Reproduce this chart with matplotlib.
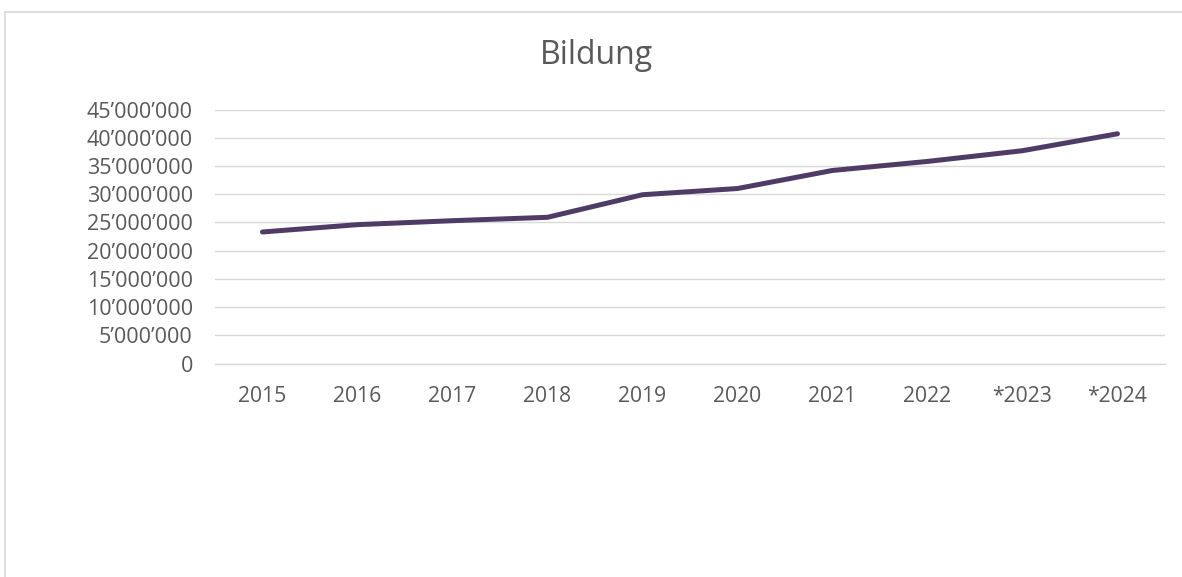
import matplotlib
matplotlib.use("Agg")
import matplotlib.pyplot as plt
from matplotlib.ticker import FuncFormatter, MultipleLocator
from matplotlib.lines import Line2D

title = "Bildung"
categories = ["2015", "2016", "2017", "2018", "2019", "2020", "2021", "2022", "*2023", "*2024"]
values = [23_300_000, 24_600_000, 25_300_000, 25_900_000, 29_900_000,
          31_000_000, 34_200_000, 35_800_000, 37_700_000, 40_700_000]

plt.rcParams['font.family'] = ['Open Sans', 'DejaVu Sans']
text_color = "#595959"
grid_color = "#D9D9D9"
line_color = "#4E3C66"

fig = plt.figure(figsize=(11.82, 5.77), dpi=100)
ax = fig.add_axes([215 / 1182, 1 - 363.5 / 577, 950 / 1182, 254 / 577])

x = list(range(len(categories)))
ax.plot(x, values, color=line_color, linewidth=3.6, solid_capstyle="round", solid_joinstyle="round", zorder=3)

ax.set_xlim(-0.5, len(categories) - 0.5)
ax.set_ylim(0, 45_000_000)
ax.yaxis.set_major_locator(MultipleLocator(5_000_000))
ax.yaxis.set_major_formatter(FuncFormatter(lambda v, p: f"{int(round(v)):,}".replace(",", "\u2019")))
ax.set_xticks(x)
ax.set_xticklabels(categories)

ax.grid(axis="y", color=grid_color, linewidth=1.0, zorder=0)
ax.set_axisbelow(True)
for s in ["left", "right", "top"]:
    ax.spines[s].set_visible(False)
ax.spines["bottom"].set_color(grid_color)
ax.spines["bottom"].set_linewidth(1.0)
ax.tick_params(axis="y", length=0, labelsize=15.5, colors=text_color, pad=16)
ax.tick_params(axis="x", length=0, labelsize=15.2, colors=text_color, pad=16)

fig.text(596 / 1182, 1 - 55 / 577, title, ha="center", va="center", fontsize=23, color=text_color)

# chart border (left and top visible)
fig.add_artist(Line2D([5 / 1182, 5 / 1182], [0, 1 - 12 / 577], transform=fig.transFigure, color=grid_color, linewidth=1.2))
fig.add_artist(Line2D([5 / 1182, 1], [1 - 12 / 577, 1 - 12 / 577], transform=fig.transFigure, color=grid_color, linewidth=1.2))

fig.savefig("out.png", dpi=100, facecolor="white")
